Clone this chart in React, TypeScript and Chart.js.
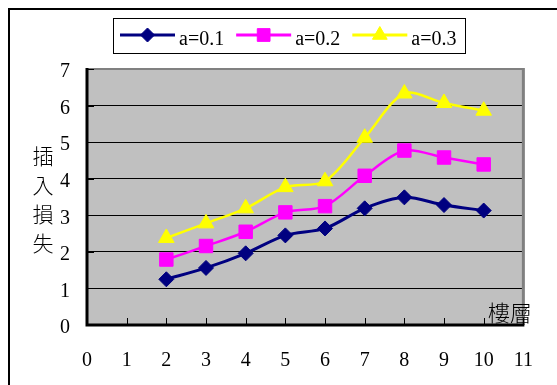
import { useEffect, useRef } from 'react';
import { Chart, registerables } from 'chart.js';
import { drawPoint } from 'chart.js/helpers';

Chart.register(...registerables);

// 樓層 (floor) vs 插入損失 (insertion loss) for three values of a
const floors = [2, 3, 4, 5, 6, 7, 8, 9, 10];
const lossA01 = [1.25, 1.56, 1.96, 2.45, 2.64, 3.19, 3.49, 3.28, 3.13];
const lossA02 = [1.79, 2.16, 2.55, 3.08, 3.25, 4.08, 4.77, 4.58, 4.39];
const lossA03 = [2.38, 2.78, 3.19, 3.77, 3.93, 5.12, 6.33, 6.07, 5.86];
const seriesLabels = ['a=0.1', 'a=0.2', 'a=0.3'];
const yTitleChars = ['插', '入', '損', '失'];
const xTitle = '樓層';

const SERIF = '"Liberation Serif", "Times New Roman", serif';
const CJK = '"Noto Sans CJK TC", "Noto Sans CJK SC", sans-serif';

const toPoints = (ys: number[]) => floors.map((x, i) => ({ x, y: ys[i] }));

const decorPlugin = {
  id: 'decor',
  beforeDraw(chart: any) {
    const { ctx, chartArea: a, width, height } = chart;
    ctx.save();
    ctx.fillStyle = '#ffffff';
    ctx.fillRect(0, 0, width, height);
    // plot background
    ctx.fillStyle = '#C0C0C0';
    ctx.fillRect(a.left, a.top, a.right - a.left, a.bottom - a.top);
    // outer frame
    ctx.strokeStyle = '#000000';
    ctx.lineWidth = 2;
    ctx.beginPath();
    ctx.moveTo(9, height);
    ctx.lineTo(9, 9);
    ctx.lineTo(width, 9);
    ctx.stroke();
    ctx.restore();
  },
  beforeDatasetsDraw(chart: any) {
    const { ctx, chartArea: a, scales } = chart;
    ctx.save();
    // top and right plot border
    ctx.strokeStyle = '#808080';
    ctx.lineWidth = 2;
    ctx.beginPath();
    ctx.moveTo(a.left, a.top);
    ctx.lineTo(a.right, a.top);
    ctx.stroke();
    ctx.lineWidth = 3;
    ctx.beginPath();
    ctx.moveTo(a.right, a.top - 1);
    ctx.lineTo(a.right, a.bottom);
    ctx.stroke();
    // axis lines
    ctx.strokeStyle = '#000000';
    ctx.lineWidth = 3;
    ctx.beginPath();
    ctx.moveTo(a.left, a.top - 1);
    ctx.lineTo(a.left, a.bottom);
    ctx.lineTo(a.right + 1, a.bottom);
    ctx.stroke();
    // inward tick marks
    ctx.lineWidth = 1;
    ctx.beginPath();
    scales.x.ticks.forEach((t: any) => {
      const px = Math.round(scales.x.getPixelForValue(t.value)) + 0.5;
      ctx.moveTo(px, a.bottom);
      ctx.lineTo(px, a.bottom - 7);
    });
    scales.y.ticks.forEach((t: any) => {
      const py = Math.round(scales.y.getPixelForValue(t.value)) + 0.5;
      ctx.moveTo(a.left, py);
      ctx.lineTo(a.left + 7, py);
    });
    ctx.stroke();
    ctx.restore();
  },
  afterDraw(chart: any) {
    const { ctx } = chart;
    ctx.save();
    // legend
    const boxL = 113, boxT = 18, boxW = 352, boxH = 35;
    ctx.strokeStyle = '#000000';
    ctx.lineWidth = 1;
    ctx.strokeRect(boxL + 0.5, boxT + 0.5, boxW, boxH);
    ctx.font = `20px ${SERIF}`;
    ctx.textAlign = 'left';
    ctx.textBaseline = 'alphabetic';
    let lx = 120;
    const ly = 35;
    chart.data.datasets.forEach((ds: any) => {
      ctx.strokeStyle = ds.borderColor;
      ctx.lineWidth = 3;
      ctx.beginPath();
      ctx.moveTo(lx, ly);
      ctx.lineTo(lx + 55, ly);
      ctx.stroke();
      ctx.fillStyle = ds.backgroundColor;
      ctx.strokeStyle = ds.borderColor;
      ctx.lineWidth = 1;
      drawPoint(ctx, { pointStyle: ds.pointStyle, radius: ds.pointRadius - 0.5, rotation: 0, borderWidth: 1 }, lx + 27.5, ly);
      ctx.fillStyle = '#000000';
      ctx.fillText(ds.label, lx + 59, 45);
      lx = lx + 59 + ctx.measureText(ds.label).width + 12;
    });
    // axis titles
    ctx.fillStyle = '#000000';
    ctx.textAlign = 'center';
    ctx.textBaseline = 'middle';
    ctx.font = `300 21px ${CJK}`;
    yTitleChars.forEach((ch, i) => ctx.fillText(ch, 43, 156 + i * 29));
    ctx.font = `300 22px ${CJK}`;
    ctx.fillText(xTitle, 510, 313);
    ctx.restore();
  },
};

export default function App() {
  const canvasRef = useRef<HTMLCanvasElement | null>(null);

  useEffect(() => {
    const canvas = canvasRef.current;
    if (!canvas) return;
    const colors = ['#000080', '#FF00FF', '#FFFF00'];
    const styles = ['rectRot', 'rect', 'triangle'];
    const radii = [7.5, 9.5, 9];
    const widths = [3, 2.5, 2.5];
    const series = [lossA01, lossA02, lossA03];
    const chart = new Chart(canvas, {
      type: 'line',
      data: {
        datasets: series.map((ys, i) => ({
          label: seriesLabels[i],
          data: toPoints(ys),
          borderColor: colors[i],
          backgroundColor: colors[i],
          borderWidth: widths[i],
          pointStyle: styles[i],
          pointRadius: radii[i],
          pointBorderWidth: 1,
          pointBorderColor: colors[i],
          pointBackgroundColor: colors[i],
          tension: 0.3,
          fill: false,
        })),
      },
      options: {
        animation: false,
        responsive: false,
        devicePixelRatio: 1,
        layout: { padding: { top: 69, right: 20, left: 0, bottom: 0 } },
        plugins: {
          legend: { display: false },
          tooltip: { enabled: false },
          title: { display: false },
        },
        scales: {
          x: {
            type: 'linear',
            min: 0,
            max: 11,
            afterFit: (s: any) => { s.height = 60; },
            ticks: { stepSize: 1, padding: 24, color: '#000', font: { family: SERIF, size: 20 }, maxRotation: 0 },
            grid: { display: false, drawTicks: false },
            border: { display: false },
          },
          y: {
            min: 0,
            max: 7,
            afterFit: (s: any) => { s.width = 87; },
            ticks: { stepSize: 1, padding: 17, labelOffset: 3, color: '#000', font: { family: SERIF, size: 20 } },
            grid: {
              drawTicks: false,
              color: (c: any) => (c.tick && (c.tick.value === 0 || c.tick.value === 7) ? 'rgba(0,0,0,0)' : '#000000'),
              lineWidth: 1,
            },
            border: { display: false },
          },
        },
      },
      plugins: [decorPlugin],
    });
    return () => chart.destroy();
  }, []);

  return (
    <div style={{ position: 'fixed', left: 0, top: 0, width: 557, height: 385 }}>
      <canvas ref={canvasRef} width={557} height={385} />
    </div>
  );
}
